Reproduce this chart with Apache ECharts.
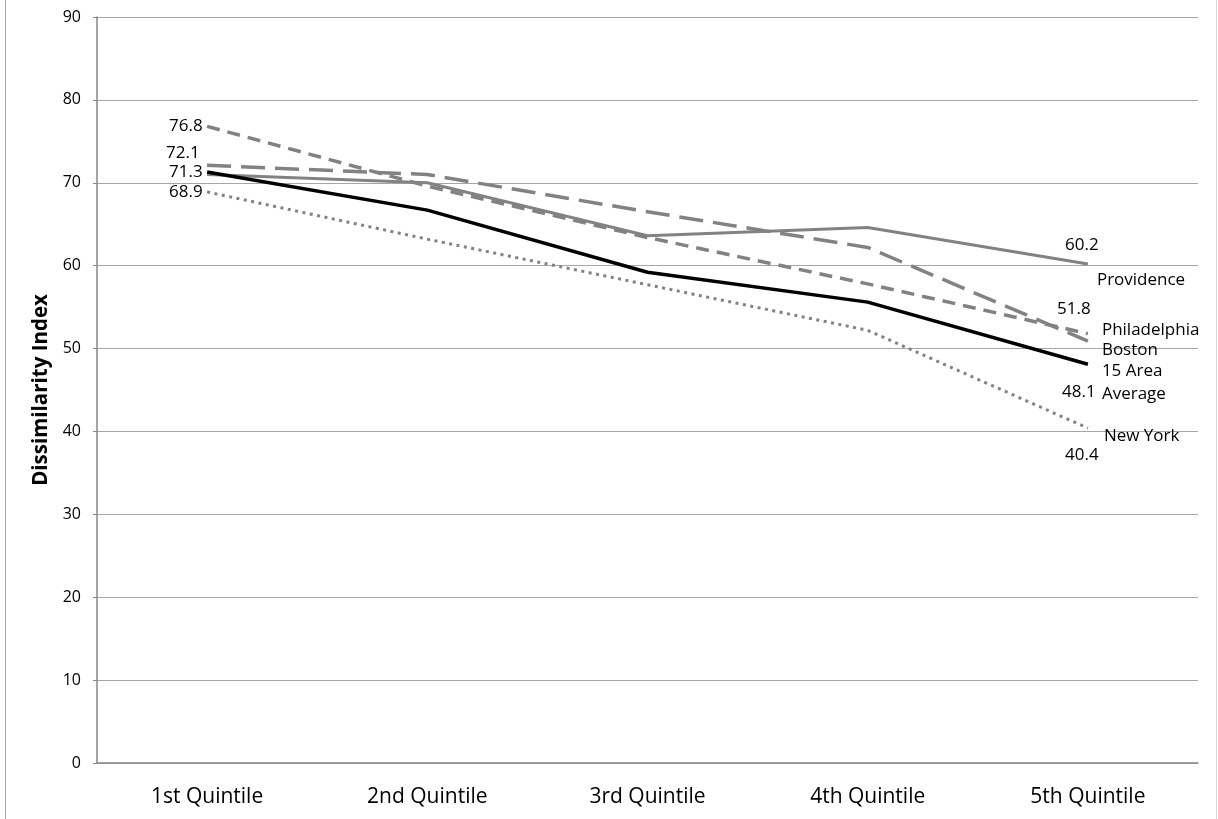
<!DOCTYPE html>
<html>
<head>
<meta charset="utf-8">
<script src="https://cdn.jsdelivr.net/npm/echarts@6/dist/echarts.min.js"></script>
<style>
  html, body { margin: 0; padding: 0; background: #fff; }
  #frame { position: absolute; left: 5px; top: 0; width: 1210px; height: 819px;
           border-left: 1px solid #a6a6a6; border-right: 1px solid #d9d9d9; }
  #main { position: absolute; left: 0; top: 0; width: 1218px; height: 819px; }
</style>
</head>
<body>
<div id="frame"></div>
<div id="main"></div>
<script>
  // values
  const quintiles = ['1st Quintile', '2nd Quintile', '3rd Quintile', '4th Quintile', '5th Quintile'];
  const providence = [71.0, 70.0, 63.6, 64.6, 60.2];
  const philadelphia = [76.8, 69.6, 63.4, 57.8, 51.8];
  const boston = [72.1, 71.0, 66.5, 62.2, 50.9];
  const areaAverage = [71.3, 66.7, 59.2, 55.6, 48.1];
  const newYork = [68.9, 63.2, 57.7, 52.2, 40.4];

  const FONT = 'Open Sans';
  const GRAY = '#828282';

  // first / last point value labels
  const withLabels = (vals, first, last) => vals.map((v, i) => {
    if (i === 0 && first) return { value: v, label: Object.assign({ show: true, formatter: '{c}' }, first) };
    if (i === vals.length - 1 && last) return { value: v, label: Object.assign({ show: true, formatter: '{c}' }, last) };
    return v;
  });

  const baseLabel = { color: '#000', fontFamily: FONT, fontSize: 17 };

  let myChart = echarts.init(document.getElementById('main'));
  let option = {
    animation: false,
    textStyle: { fontFamily: FONT },
    grid: { left: 97, right: 20, top: 17, bottom: 56 },
    xAxis: {
      type: 'category',
      data: quintiles,
      boundaryGap: true,
      axisLine: { lineStyle: { color: '#868686', width: 1.5 } },
      axisTick: { show: false },
      axisLabel: { color: '#000', fontSize: 21, margin: 24, fontFamily: FONT }
    },
    yAxis: {
      type: 'value',
      min: 0, max: 90, interval: 10,
      name: 'Dissimilarity Index',
      nameLocation: 'middle',
      nameGap: 39,
      nameTextStyle: { color: '#000', fontSize: 20.5, fontWeight: 'bold', fontFamily: FONT },
      axisLine: { show: true, lineStyle: { color: '#868686', width: 1.5 } },
      axisTick: { show: true, length: 4, lineStyle: { color: '#868686' } },
      axisLabel: { color: '#000', fontSize: 16, margin: 16, fontFamily: FONT },
      splitLine: { lineStyle: { color: '#a6a6a6', width: 1.2 } }
    },
    series: [
      {
        name: 'Providence', type: 'line',
        data: withLabels(providence, null, Object.assign({ position: 'top', distance: 10, offset: [-6, 0] }, baseLabel)),
        symbol: 'circle', symbolSize: 1, itemStyle: { color: 'rgba(0,0,0,0)' },
        lineStyle: { color: GRAY, width: 3 },
        endLabel: Object.assign({ show: true, formatter: 'Providence', distance: 0, offset: [9, 16] }, baseLabel)
      },
      {
        name: 'Philadelphia', type: 'line',
        data: withLabels(philadelphia,
          Object.assign({ position: 'left', distance: 4 }, baseLabel),
          Object.assign({ position: 'top', distance: 15, offset: [-14, 0] }, baseLabel)),
        symbol: 'circle', symbolSize: 1, itemStyle: { color: 'rgba(0,0,0,0)' },
        lineStyle: { color: GRAY, width: 3.5, type: [13, 8] },
        endLabel: Object.assign({ show: true, formatter: 'Philadelphia', distance: 0, offset: [14, -3] }, baseLabel)
      },
      {
        name: 'Boston', type: 'line',
        data: withLabels(boston,
          Object.assign({ position: 'left', distance: 5, offset: [-2, -12] }, baseLabel), null),
        symbol: 'circle', symbolSize: 1, itemStyle: { color: 'rgba(0,0,0,0)' },
        lineStyle: { color: GRAY, width: 3.5, type: [24, 10] },
        endLabel: Object.assign({ show: true, formatter: 'Boston', distance: 0, offset: [14, 9] }, baseLabel)
      },
      {
        name: 'New York', type: 'line',
        data: withLabels(newYork,
          Object.assign({ position: 'left', distance: 4 }, baseLabel),
          Object.assign({ position: 'bottom', distance: 18, offset: [-6, 0] }, baseLabel)),
        symbol: 'circle', symbolSize: 1, itemStyle: { color: 'rgba(0,0,0,0)' },
        lineStyle: { color: GRAY, width: 3, type: [3, 4.5] },
        endLabel: Object.assign({ show: true, formatter: 'New York', distance: 0, offset: [16, 8] }, baseLabel)
      },
      {
        name: '15 Area Average', type: 'line',
        data: withLabels(areaAverage,
          Object.assign({ position: 'left', distance: 4 }, baseLabel),
          Object.assign({ position: 'bottom', distance: 19, offset: [-9, 0] }, baseLabel)),
        symbol: 'circle', symbolSize: 1, itemStyle: { color: 'rgba(0,0,0,0)' },
        lineStyle: { color: '#000', width: 3.5 },
        endLabel: Object.assign({ show: true, formatter: '15 Area\nAverage', lineHeight: 23, distance: 0, offset: [14, 18] }, baseLabel)
      }
    ]
  };
  option && myChart.setOption(option);
</script>
</body>
</html>
